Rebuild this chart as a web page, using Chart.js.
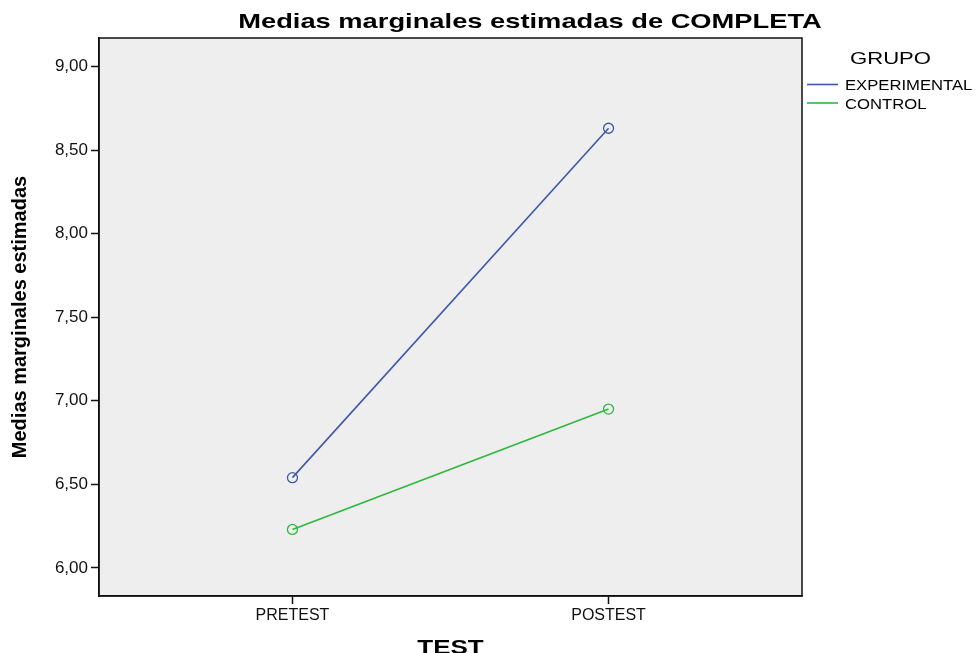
<!DOCTYPE html>
<html>
<head>
<meta charset="utf-8">
<script src="https://cdn.jsdelivr.net/npm/chart.js@4.4.1/dist/chart.umd.min.js"></script>
<style>
  html, body { margin: 0; padding: 0; background: #fff; }
  #wrap { width: 977px; height: 653px; }
</style>
</head>
<body>
<div id="wrap"><canvas id="chart" width="977" height="653"></canvas></div>
<script>
// data
const categories = ['PRETEST', 'POSTEST'];
const experimental = [6.54, 8.63];
const control = [6.23, 6.95];
const yTicks = [6.0, 6.5, 7.0, 7.5, 8.0, 8.5, 9.0];

const chartTitle = 'Medias marginales estimadas de COMPLETA';
const xTitle = 'TEST';
const legendTitle = 'GRUPO';

const FONT = "'Liberation Sans', Arial, sans-serif";
const BLUE = '#3e58ac';
const GREEN = '#2eb83c';

function toPoints(vals) {
    return vals.map((v, i) => ({ x: i, y: v }));
}

// SPSS stretches its text sideways, so draw it squeezed into the same box
function wideText(ctx, text, x, y, stretch, align) {
    const w = ctx.measureText(text).width * stretch;
    let left = x;
    if (align === 'center') left = x - w / 2;
    ctx.save();
    ctx.translate(left, y);
    ctx.scale(stretch, 1);
    ctx.textAlign = 'left';
    ctx.fillText(text, 0, 0);
    ctx.restore();
}

// grey plot box with dark frame
const plotBox = {
    id: 'plotBox',
    beforeDraw(chart) {
        const { ctx, chartArea: a } = chart;
        ctx.save();
        ctx.fillStyle = '#eeeeee';
        ctx.fillRect(a.left, a.top, a.right - a.left, a.bottom - a.top);
        ctx.restore();
    },
    afterDraw(chart) {
        const { ctx, chartArea: a } = chart;
        ctx.save();
        ctx.strokeStyle = '#111';
        ctx.lineWidth = 1.5;
        ctx.strokeRect(a.left, a.top, a.right - a.left, a.bottom - a.top);
        ctx.restore();
    }
};

// title, x title and legend
const decorations = {
    id: 'decorations',
    afterDraw(chart) {
        const ctx = chart.ctx;
        const a = chart.chartArea;
        ctx.save();
        ctx.fillStyle = '#000';
        ctx.textBaseline = 'alphabetic';

        ctx.font = 'bold 21px ' + FONT;
        wideText(ctx, chartTitle, 530, 28, 1.3, 'center');

        ctx.font = 'bold 20px ' + FONT;
        wideText(ctx, xTitle, (a.left + a.right) / 2, 654, 1.3, 'center');

        ctx.font = '17px ' + FONT;
        wideText(ctx, legendTitle, 850, 64, 1.3, 'left');

        ctx.font = '15px ' + FONT;
        chart.data.datasets.forEach((ds, i) => {
            const y = 84.5 + i * 18.5;
            ctx.strokeStyle = ds.borderColor;
            ctx.lineWidth = 1.6;
            ctx.beginPath();
            ctx.moveTo(807, y);
            ctx.lineTo(838, y);
            ctx.stroke();
            ctx.fillStyle = '#000';
            wideText(ctx, ds.label, 845, y + 5.5, 1.11, 'left');
        });
        ctx.restore();
    }
};

const ctx = document.getElementById('chart').getContext('2d');
new Chart(ctx, {
    type: 'line',
    data: {
        datasets: [{
            label: 'EXPERIMENTAL',
            data: toPoints(experimental),
            borderColor: BLUE,
            backgroundColor: 'rgba(0,0,0,0)',
            pointBorderColor: BLUE,
            pointBackgroundColor: 'rgba(0,0,0,0)',
            borderWidth: 1.6,
            pointRadius: 5,
            pointBorderWidth: 1.3,
            tension: 0
        }, {
            label: 'CONTROL',
            data: toPoints(control),
            borderColor: GREEN,
            backgroundColor: 'rgba(0,0,0,0)',
            pointBorderColor: GREEN,
            pointBackgroundColor: 'rgba(0,0,0,0)',
            borderWidth: 1.6,
            pointRadius: 5,
            pointBorderWidth: 1.3,
            tension: 0
        }]
    },
    options: {
        responsive: false,
        animation: false,
        layout: { padding: { left: 0, right: 175, top: 38, bottom: 0 } },
        plugins: {
            legend: { display: false },
            title: { display: false },
            tooltip: { enabled: false }
        },
        scales: {
            x: {
                type: 'linear',
                min: -0.612,
                max: 1.612,
                afterBuildTicks: s => { s.ticks = categories.map((c, i) => ({ value: i })); },
                afterFit: s => { s.height = 57; },
                ticks: {
                    callback: v => categories[v],
                    color: '#111',
                    font: { family: FONT, size: 16 },
                    padding: 2,
                    maxRotation: 0
                },
                grid: {
                    drawOnChartArea: false,
                    drawTicks: true,
                    tickLength: 8,
                    tickColor: '#111',
                    tickWidth: 1.5
                },
                border: { display: true, color: '#111', width: 1.5 }
            },
            y: {
                min: 5.832,
                max: 9.17,
                afterBuildTicks: s => { s.ticks = yTicks.map(v => ({ value: v })); },
                afterFit: s => { s.width = 99; },
                ticks: {
                    callback: v => v.toFixed(2).replace('.', ','),
                    color: '#111',
                    font: { family: FONT, size: 17 },
                    padding: 3
                },
                grid: {
                    drawOnChartArea: false,
                    drawTicks: true,
                    tickLength: 8,
                    tickColor: '#111',
                    tickWidth: 1.5
                },
                border: { display: true, color: '#111', width: 1.5 },
                title: {
                    display: true,
                    text: 'Medias marginales estimadas',
                    color: '#000',
                    font: { family: "'Liberation Sans Narrow', " + FONT, size: 20, weight: 'bold' },
                    padding: { top: 8 }
                }
            }
        }
    },
    plugins: [plotBox, decorations]
});
</script>
</body>
</html>
